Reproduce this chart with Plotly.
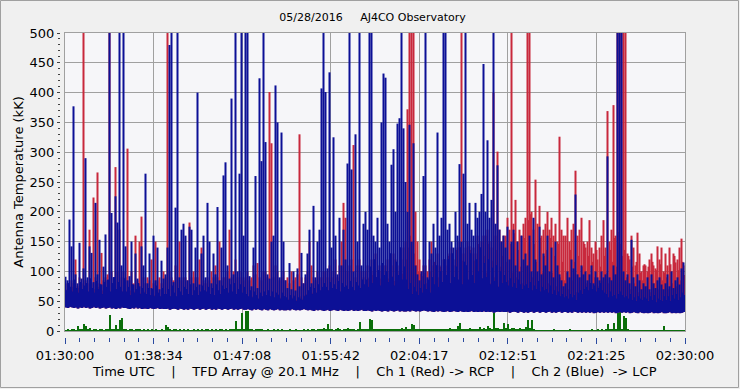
import plotly.graph_objects as go

# ---------------- data ----------------
DURATION_S = 3600  # 01:30:00 -> 02:30:00 UTC

x_tick_labels = ["01:30:00", "01:38:34", "01:47:08", "01:55:42",
                 "02:04:17", "02:12:51", "02:21:25", "02:30:00"]

# Ch 2 (Blue, LCP) - peak antenna temperature (kK), even samples
blue_top = [
    91, 85, 187, 142, 377, 95, 80, 148, 88, 105,
    290, 90, 142, 131, 82, 215, 95, 153, 78, 108,
    162, 85, 520, 198, 90, 226, 182, 520, 110, 520,
    142, 85, 92, 150, 78, 130, 88, 75, 142, 110,
    264, 80, 130, 72, 160, 85, 140, 70, 118, 88,
    95, 140, 480, 520, 82, 207, 520, 90, 170, 180,
    160, 85, 175, 170, 80, 140, 400, 78, 130, 160,
    90, 215, 150, 80, 130, 95, 208, 85, 140, 261,
    283, 110, 88, 390, 95, 520, 100, 264, 520, 160,
    520, 520, 92, 75, 140, 260, 72, 424, 285, 520,
    317, 95, 88, 150, 160, 412, 350, 90, 333, 150,
    85, 72, 114, 70, 100, 68, 105, 75, 131, 80,
    95, 130, 170, 80, 210, 90, 150, 170, 407, 520,
    401, 105, 434, 140, 325, 160, 95, 190, 110, 170,
    120, 281, 520, 271, 100, 330, 150, 520, 110, 180,
    200, 170, 520, 520, 160, 150, 190, 140, 350, 432,
    425, 180, 150, 279, 305, 200, 348, 357, 520, 340,
    250, 200, 346, 150, 315, 110, 95, 85, 100, 260,
    520, 90, 150, 130, 180, 140, 333, 160, 190, 520,
    520, 170, 180, 150, 140, 200, 160, 280, 150, 264,
    520, 180, 215, 170, 160, 215, 190, 200, 230, 448,
    200, 320, 190, 220, 520, 180, 278, 170, 150, 160,
    140, 175, 120, 150, 170, 110, 150, 100, 160, 120,
    130, 110, 160, 100, 190, 120, 100, 175, 95, 130,
    110, 160, 100, 140, 90, 150, 110, 95, 85, 75,
    80, 100, 90, 120, 105, 229, 95, 90, 110, 95,
    100, 85, 95, 110, 80, 100, 90, 85, 100, 90,
    95, 293, 90, 85, 110, 95, 520, 520, 520, 100,
    85, 95, 80, 153, 90, 75, 95, 85, 70, 80,
    75, 90, 70, 95, 80, 72, 85, 90, 78, 70,
    80, 95, 75, 100, 72, 85, 90, 78, 105, 115,
]

# Ch 2 (Blue) - odd samples (mostly the dense noise band)
blue_mid = [
    68, 80, 74, 66, 86, 72, 64, 82, 70, 76,
    80, 66, 88, 72, 64, 84, 70, 78, 62, 82,
    74, 86, 66, 80, 90, 70, 82, 74, 66, 88,
    66, 74, 60, 78, 64, 70, 80, 62, 72, 64,
    62, 72, 60, 70, 58, 76, 64, 58, 72, 62,
    62, 70, 58, 76, 64, 58, 72, 66, 60, 74,
    70, 62, 78, 60, 68, 74, 60, 66, 76, 68,
    66, 74, 62, 72, 60, 78, 68, 62, 76, 70,
    72, 64, 78, 66, 80, 62, 70, 78, 64, 74,
    62, 58, 68, 56, 66, 60, 54, 64, 58, 66,
    60, 68, 58, 66, 56, 64, 60, 54, 64, 58,
    56, 52, 60, 54, 58, 50, 56, 54, 52, 58,
    60, 68, 74, 62, 72, 64, 78, 68, 74, 80,
    74, 68, 82, 72, 78, 70, 84, 66, 80, 74,
    76, 70, 84, 74, 68, 82, 76, 72, 86, 78,
    86, 74, 108, 80, 120, 90, 102, 76, 114, 94,
    100, 82, 130, 90, 76, 116, 94, 140, 86, 108,
    86, 70, 80, 62, 74, 66, 60, 72, 64, 78,
    70, 86, 64, 90, 78, 110, 74, 100, 82, 120,
    94, 120, 80, 130, 90, 108, 86, 140, 78, 116,
    110, 86, 130, 94, 80, 120, 100, 140, 88, 114,
    90, 120, 78, 106, 84, 110, 74, 100, 80, 94,
    82, 76, 88, 74, 80, 72, 86, 78, 70, 76,
    78, 72, 82, 68, 76, 70, 84, 66, 74, 68,
    70, 64, 76, 62, 68, 60, 66, 58, 62, 56,
    58, 54, 62, 56, 60, 52, 64, 68, 62, 70,
    74, 68, 80, 70, 76, 66, 72, 80, 68, 64,
    62, 56, 66, 58, 60, 54, 62, 66, 60, 56,
    58, 54, 62, 52, 56, 50, 58, 54, 52, 56,
    54, 50, 58, 52, 60, 48, 54, 52, 50, 58,
    52, 58, 50, 60, 54, 62, 52, 56, 64, 60,
]

# Ch 1 (Red, RCP) - peak antenna temperature (kK), even samples
red_top = [
    70, 80, 75, 85, 80, 120, 75, 90, 80, 520,
    85, 80, 170, 80, 224, 90, 266, 80, 131, 85,
    90, 95, 520, 100, 80, 275, 100, 170, 90, 100,
    90, 306, 85, 100, 80, 160, 85, 150, 192, 90,
    80, 90, 85, 120, 80, 150, 85, 90, 80, 100,
    90, 520, 100, 90, 85, 110, 90, 150, 85, 90,
    90, 85, 182, 90, 100, 90, 90, 120, 140, 85,
    80, 90, 85, 100, 90, 110, 90, 150, 85, 90,
    90, 100, 170, 90, 100, 120, 90, 100, 90, 85,
    90, 100, 85, 90, 110, 95, 114, 90, 85, 100,
    100, 90, 401, 315, 90, 110, 100, 85, 90, 100,
    85, 90, 80, 100, 85, 90, 95, 330, 90, 80,
    90, 100, 150, 110, 90, 85, 100, 90, 90, 100,
    100, 90, 110, 90, 100, 120, 90, 110, 150, 215,
    190, 100, 110, 120, 312, 90, 110, 120, 100, 90,
    100, 110, 90, 120, 100, 130, 90, 110, 100, 110,
    110, 120, 100, 110, 130, 120, 100, 110, 120, 140,
    150, 372, 520, 520, 520, 200, 150, 120, 100, 110,
    110, 100, 120, 150, 110, 95, 130, 110, 100, 120,
    120, 110, 130, 140, 120, 110, 140, 150, 520, 130,
    140, 150, 142, 130, 140, 130, 160, 140, 150, 160,
    160, 170, 150, 140, 400, 160, 301, 170, 150, 160,
    160, 190, 170, 520, 180, 220, 150, 170, 160, 180,
    190, 520, 520, 200, 170, 254, 180, 210, 160, 170,
    180, 200, 170, 190, 160, 180, 150, 326, 170, 160,
    160, 190, 150, 170, 180, 269, 160, 170, 190, 150,
    140, 150, 186, 140, 130, 150, 120, 140, 160, 186,
    140, 369, 150, 170, 379, 160, 520, 520, 520, 520,
    520, 130, 120, 160, 140, 110, 165, 130, 100, 110,
    110, 100, 120, 130, 110, 105, 142, 120, 140, 100,
    130, 110, 140, 100, 130, 115, 120, 140, 155, 110,
]

# Ch 1 (Red) - odd samples
red_mid = [
    62, 70, 66, 74, 60, 68, 72, 64, 70, 66,
    68, 64, 72, 60, 70, 66, 74, 62, 68, 70,
    66, 72, 60, 70, 64, 68, 62, 74, 66, 70,
    64, 60, 68, 62, 66, 58, 70, 64, 60, 66,
    62, 66, 58, 64, 60, 68, 62, 56, 64, 60,
    60, 64, 58, 66, 62, 56, 64, 60, 58, 62,
    64, 60, 66, 58, 62, 68, 60, 64, 66, 60,
    62, 66, 60, 64, 58, 68, 62, 60, 66, 64,
    66, 62, 68, 64, 70, 60, 66, 68, 62, 64,
    60, 56, 62, 58, 60, 56, 54, 60, 58, 62,
    60, 62, 58, 64, 56, 60, 62, 56, 60, 58,
    56, 54, 58, 56, 60, 52, 56, 58, 54, 60,
    62, 66, 70, 64, 68, 62, 72, 66, 70, 74,
    72, 68, 76, 70, 74, 68, 80, 66, 76, 72,
    74, 70, 78, 72, 68, 76, 74, 70, 80, 76,
    82, 88, 80, 94, 86, 82, 96, 88, 84, 92,
    94, 88, 100, 92, 84, 98, 94, 104, 96, 90,
    120, 140, 160, 150, 130, 110, 100, 96, 92, 98,
    80, 66, 100, 74, 116, 78, 90, 108, 70, 98,
    90, 126, 76, 108, 85, 136, 80, 98, 118, 75,
    108, 80, 136, 90, 118, 75, 146, 98, 85, 126,
    98, 146, 80, 118, 90, 136, 75, 108, 126, 85,
    116, 85, 146, 98, 164, 90, 136, 108, 80, 156,
    108, 186, 196, 90, 146, 116, 80, 156, 98, 126,
    136, 80, 156, 98, 126, 75, 146, 90, 116, 85,
    98, 70, 136, 85, 116, 65, 126, 90, 108, 146,
    80, 126, 70, 116, 90, 136, 75, 108, 85, 126,
    98, 80, 136, 116, 156, 108, 166, 146, 126, 136,
    90, 126, 70, 108, 80, 116, 65, 98, 85, 112,
    75, 108, 65, 116, 80, 102, 70, 112, 85, 98,
    90, 70, 112, 80, 126, 75, 102, 85, 116, 94,
]

# lower envelope (noise floor) of both channels (kK)
floor_level = [
    40, 39, 41, 40, 39, 40, 38, 40, 39, 41,
    39, 40, 38, 39, 41, 39, 40, 38, 39, 40,
    38, 39, 40, 38, 39, 37, 39, 38, 40, 39,
    39, 38, 37, 39, 38, 40, 38, 39, 37, 38,
    38, 37, 39, 38, 37, 38, 39, 37, 38, 37,
    37, 38, 36, 37, 38, 37, 36, 38, 37, 36,
    37, 36, 38, 37, 36, 37, 38, 36, 37, 38,
    36, 37, 38, 36, 37, 36, 38, 37, 36, 37,
    37, 36, 37, 38, 36, 37, 36, 37, 38, 36,
    36, 37, 36, 35, 37, 36, 37, 36, 35, 37,
    36, 35, 37, 36, 35, 36, 37, 35, 36, 35,
    35, 36, 35, 37, 36, 35, 36, 35, 36, 37,
    36, 35, 36, 35, 34, 36, 35, 36, 35, 34,
    35, 36, 34, 35, 36, 35, 34, 36, 35, 34,
    35, 34, 35, 36, 34, 35, 34, 35, 36, 34,
    34, 35, 34, 33, 35, 34, 35, 34, 33, 34,
    34, 33, 35, 34, 33, 34, 35, 33, 34, 33,
    33, 34, 33, 35, 34, 33, 34, 33, 34, 35,
    34, 33, 34, 33, 32, 34, 33, 34, 33, 32,
    33, 34, 32, 33, 34, 33, 32, 34, 33, 32,
    33, 32, 33, 34, 32, 33, 32, 33, 32, 34,
    32, 33, 32, 33, 31, 32, 33, 32, 33, 32,
    32, 33, 31, 32, 33, 32, 31, 33, 32, 31,
    32, 31, 32, 33, 31, 32, 33, 31, 32, 32,
    31, 32, 33, 31, 32, 31, 32, 33, 31, 32,
    32, 31, 32, 31, 33, 32, 31, 32, 31, 32,
    31, 32, 31, 32, 30, 31, 32, 31, 32, 31,
    32, 31, 32, 31, 32, 30, 31, 32, 31, 32,
    31, 32, 30, 31, 32, 31, 30, 32, 31, 30,
    31, 30, 31, 32, 30, 31, 30, 31, 32, 30,
    30, 31, 32, 30, 31, 30, 31, 30, 31, 32,
]

# green trace (channel difference) (kK)
green_diff = [
    1, 2, 1, 3, 2, 1, 8, 2, 4, 12,
    9, 2, 5, 1, 3, 2, 1, 4, 2, 1,
    2, 3, 27, 2, 4, 10, 3, 18, 22, 3,
    2, 1, 3, 2, 1, 4, 4, 2, 1, 2,
    1, 2, 1, 3, 1, 2, 1, 1, 2, 1,
    10, 7, 2, 1, 3, 2, 1, 2, 1, 2,
    1, 2, 1, 1, 2, 1, 3, 1, 2, 1,
    2, 4, 1, 2, 1, 2, 1, 4, 2, 1,
    2, 1, 2, 3, 2, 16, 3, 4, 30, 2,
    33, 33, 3, 2, 1, 2, 4, 4, 2, 1,
    1, 2, 1, 1, 2, 1, 3, 1, 2, 1,
    1, 1, 2, 1, 1, 2, 1, 1, 1, 2,
    1, 2, 1, 4, 2, 1, 2, 3, 2, 5,
    2, 12, 2, 3, 1, 2, 5, 2, 1, 2,
    2, 5, 2, 3, 2, 1, 3, 15, 2, 3,
    2, 3, 20, 18, 3, 2, 4, 2, 3, 2,
    3, 2, 4, 3, 2, 3, 4, 3, 5, 4,
    6, 3, 4, 12, 10, 3, 4, 2, 3, 2,
    2, 3, 2, 4, 3, 2, 3, 4, 2, 3,
    4, 3, 5, 3, 4, 3, 9, 14, 4, 3,
    4, 3, 5, 4, 3, 4, 3, 6, 4, 5,
    4, 8, 5, 4, 31, 5, 5, 4, 3, 14,
    5, 12, 4, 5, 5, 4, 3, 5, 4, 3,
    6, 18, 5, 19, 2, 1, 1, 1, 1, 1,
    1, 1, 1, 1, 2, 1, 1, 1, 1, 1,
    1, 1, 2, 1, 1, 1, 1, 1, 1, 1,
    1, 1, 1, 2, 1, 1, 3, 1, 2, 1,
    2, 12, 3, 2, 14, 4, 30, 35, 3, 26,
    22, 2, 1, 1, 1, 1, 1, 1, 1, 1,
    1, 1, 1, 1, 1, 1, 1, 1, 1, 8,
    1, 1, 1, 1, 1, 1, 1, 1, 1, 1,
]

# ---------------- build figure ----------------
n = len(blue_top)
dt = DURATION_S / n          # one (even+odd) sample pair
t_even = [(i + 0.25) * dt for i in range(n)]
t_odd = [(i + 0.75) * dt for i in range(n)]
times = [(i + 0.5) * dt for i in range(n)]
t_edges = [i * dt for i in range(n)] + [DURATION_S]
major_vals = [k * DURATION_S / 7 for k in range(8)]


def interleave(a, b):
    out = []
    for u, v in zip(a, b):
        out += [u, v]
    return out


def stems(ts, lo, hi):
    xs, ys = [], []
    for t, a, b in zip(ts, lo, hi):
        xs += [t, t, None]
        ys += [a, b, None]
    return xs, ys


t_all = interleave(t_even, t_odd)
floor_all = interleave(floor_level, floor_level)
red_all = interleave(red_top, red_mid)
blue_all = interleave(blue_top, blue_mid)

FONT = "DejaVu Sans"
GRID = "#A0A0A0"
BLUE = "#0C1096"
RED = "#C8283C"

fig = go.Figure()
rx, ry = stems(t_all, floor_all, red_all)
fig.add_trace(go.Scatter(x=rx, y=ry, mode="lines", connectgaps=False,
                         line=dict(color=RED, width=2, simplify=False),
                         hoverinfo="skip", showlegend=False))
# solid core of the blue noise band (floor -> odd-sample level), step shaped
fig.add_trace(go.Scatter(x=t_edges, y=floor_level + [floor_level[-1]],
                         mode="lines", line=dict(width=0, shape="hv"),
                         hoverinfo="skip", showlegend=False))
fig.add_trace(go.Scatter(x=t_edges, y=blue_mid + [blue_mid[-1]],
                         mode="lines", line=dict(width=0, shape="hv"),
                         fill="tonexty", fillcolor=BLUE,
                         hoverinfo="skip", showlegend=False))
bx, by = stems(t_all, floor_all, blue_all)
fig.add_trace(go.Scatter(x=bx, y=by, mode="lines", connectgaps=False,
                         line=dict(color=BLUE, width=2, simplify=False),
                         hoverinfo="skip", showlegend=False))
fig.add_trace(go.Bar(x=times, y=green_diff, width=dt,
                     marker=dict(color="#0A6E0A", line=dict(width=0)),
                     hoverinfo="skip", showlegend=False))
# helper (empty) traces so the detached tick axes get drawn
fig.add_trace(go.Scatter(x=[], y=[], xaxis="x2", yaxis="y", showlegend=False))
fig.add_trace(go.Scatter(x=[], y=[], xaxis="x", yaxis="y2", showlegend=False))

W, H = 740, 389
ML, MR, MT, MB = 60, 55, 33, 52
PW, PH = W - ML - MR, H - MT - MB
x_dom0 = 5 / PW
y_dom0 = 6 / PH

fig.update_layout(
    width=W, height=H,
    barmode="overlay", bargap=0,
    margin=dict(l=ML, r=MR, t=MT, b=MB, pad=0),
    paper_bgcolor="#F0F0F0",
    plot_bgcolor="#F6F6F9",
    font=dict(family=FONT, size=13, color="#000000"),
    title=dict(text="05/28/2016\u00a0\u00a0\u00a0\u00a0\u00a0AJ4CO Observatory",
               x=0.5, xref="paper", xanchor="center",
               y=1 - 17 / H, yref="container", yanchor="middle",
               font=dict(family=FONT, size=11, color="#000000")),
    xaxis=dict(domain=[x_dom0, 1], range=[0, DURATION_S],
               tickmode="array", tickvals=major_vals, showticklabels=False,
               ticks="", showgrid=True, gridcolor=GRID, gridwidth=1,
               zeroline=False, showline=True, mirror=True,
               linecolor=GRID, linewidth=1),
    yaxis=dict(domain=[y_dom0, 1], range=[0, 500], dtick=50,
               showticklabels=False, ticks="", showgrid=True,
               gridcolor=GRID, gridwidth=1, zeroline=False,
               showline=True, mirror=True, linecolor=GRID, linewidth=1),
    xaxis2=dict(overlaying="x", anchor="free", position=0,
                domain=[x_dom0, 1], range=[0, DURATION_S],
                tickmode="array", tickvals=major_vals,
                ticktext=x_tick_labels, ticks="outside", ticklen=6,
                tickwidth=1, tickcolor="#2A4AA0", showgrid=False,
                zeroline=False, showline=False,
                tickfont=dict(family=FONT, size=13, color="#000000"),
                minor=dict(tickmode="linear", tick0=0,
                           dtick=DURATION_S / 42, ticks="outside",
                           ticklen=4, tickwidth=1, tickcolor="#2A4AA0",
                           showgrid=False)),
    yaxis2=dict(overlaying="y", anchor="free", position=0,
                domain=[y_dom0, 1], range=[0, 500], dtick=50,
                ticks="outside", ticklen=3, tickwidth=1,
                tickcolor="#404040", showgrid=False, zeroline=False,
                showline=False,
                tickfont=dict(family=FONT, size=13, color="#000000"),
                title=dict(text="Antenna Temperature (kK)", standoff=2,
                           font=dict(family=FONT, size=13, color="#000000")),
                minor=dict(tickmode="linear", tick0=0, dtick=10,
                           ticks="outside", ticklen=2, tickwidth=1,
                           tickcolor="#404040", showgrid=False)),
    annotations=[dict(
        text=("Time UTC\u00a0\u00a0\u00a0\u00a0|\u00a0\u00a0\u00a0\u00a0"
              "TFD Array @ 20.1 MHz\u00a0\u00a0\u00a0\u00a0|\u00a0\u00a0\u00a0\u00a0"
              "Ch 1 (Red) -> RCP\u00a0\u00a0\u00a0\u00a0|\u00a0\u00a0\u00a0\u00a0"
              "Ch 2 (Blue)\u00a0\u00a0-> LCP"),
        xref="paper", yref="paper", x=0.5 + 2 / PW, y=(H - MB - 371) / PH,
        xanchor="center", yanchor="middle", showarrow=False,
        font=dict(family=FONT, size=13, color="#000000"))],
    shapes=[dict(type="rect", xref="paper", yref="paper",
                 x0=(0.5 - ML) / PW, x1=(W - 1.5 - ML) / PW,
                 y0=(H - MB - (H - 1.5)) / PH, y1=(H - MB - 0.5) / PH,
                 line=dict(color="#A0A0A0", width=1), layer="above")],
)

fig.write_html("out.html",
               config={"displayModeBar": False},
               post_script="document.body.style.margin='0px';"
                           "document.body.style.overflow='hidden';")
